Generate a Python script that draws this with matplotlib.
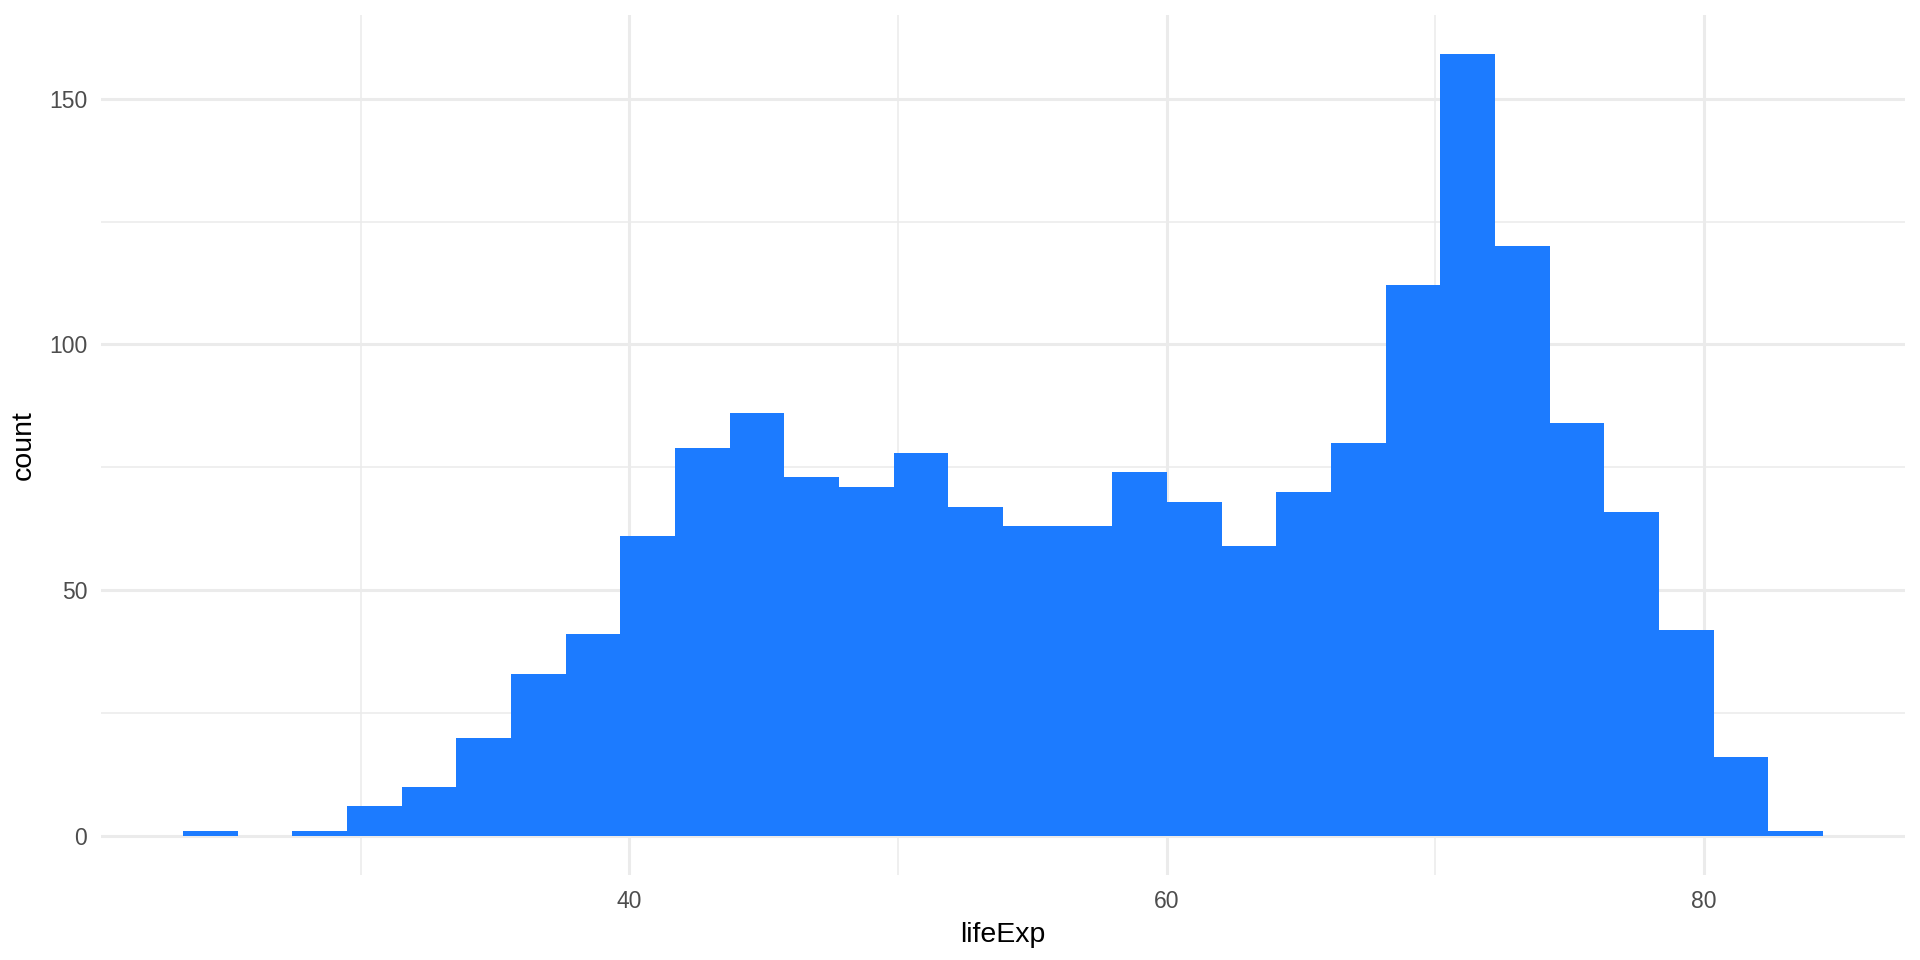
import numpy as np
import matplotlib
matplotlib.use("Agg")
import matplotlib.pyplot as plt

# histogram of lifeExp (30 bins), counts
bin_start = 23.39
bin_width = 2.0347
counts = [1, 0, 1, 6, 10, 20, 33, 41, 61, 79,
          86, 73, 71, 78, 67, 63, 63, 74, 68, 59,
          70, 80, 112, 159, 120, 84, 66, 42, 16, 1]

x_major = [40, 60, 80]
x_minor = [30, 50, 70]
y_major = [0, 50, 100, 150]
y_minor = [25, 75, 125]

plt.rcParams['font.family'] = ['Liberation Sans', 'DejaVu Sans']

edges = bin_start + bin_width * np.arange(len(counts) + 1)

fig = plt.figure(figsize=(19.2, 9.6), dpi=100)
ax = fig.add_axes([0.0526, 0.0885, 0.9396, 0.8955])

ax.bar(edges[:-1], counts, width=bin_width, align='edge',
       color='#1c7bff', linewidth=0, zorder=2)

span = edges[-1] - edges[0]
ax.set_xlim(edges[0] - 0.05 * span, edges[-1] + 0.05 * span)
ymax = max(counts)
ax.set_ylim(-0.05 * ymax, ymax * 1.05)

ax.set_xticks(x_major)
ax.set_xticks(x_minor, minor=True)
ax.set_yticks(y_major)
ax.set_yticks(y_minor, minor=True)

ax.grid(which='major', color='#ebebeb', linewidth=2.2, zorder=0)
ax.grid(which='minor', color='#ebebeb', linewidth=1.1, zorder=0)
ax.set_axisbelow(True)

for s in ax.spines.values():
    s.set_visible(False)
ax.tick_params(which='both', length=0)
ax.tick_params(axis='both', labelsize=16.5, labelcolor='#4d4d4d')
ax.tick_params(axis='x', pad=11)
ax.tick_params(axis='y', pad=10)

ax.set_xlabel('lifeExp', fontsize=20.5, color='black', labelpad=6)
ax.set_ylabel('count', fontsize=20.5, color='black', labelpad=9)

fig.savefig('out.png', dpi=100)
